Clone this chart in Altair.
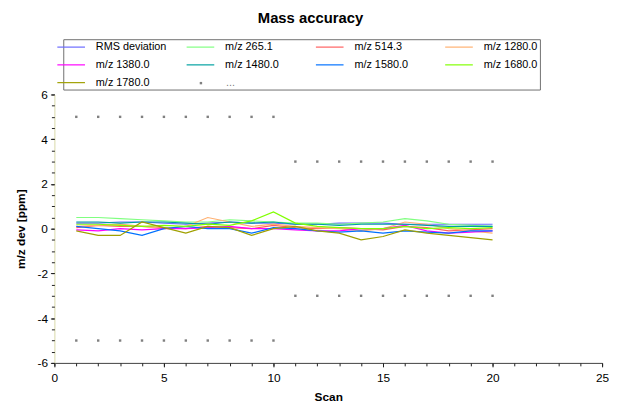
import altair as alt
import pandas as pd

scans = list(range(1, 21))
series_names = ["RMS deviation", "m/z 265.1", "m/z 514.3", "m/z 1280.0",
                "m/z 1380.0", "m/z 1480.0", "m/z 1580.0", "m/z 1680.0", "m/z 1780.0"]
series_colors = ["#6a6aff", "#80ff80", "#ff6060", "#ffb070", "#ff00ff",
                 "#00a0a0", "#0070ff", "#80ff00", "#a0a000"]

rms = [0.25, 0.25, 0.3, 0.3, 0.25, 0.2, 0.25, 0.3, 0.25, 0.25, 0.2, 0.2, 0.25, 0.25, 0.25, 0.2, 0.2, 0.2, 0.2, 0.2]
mz265 = [0.5, 0.5, 0.45, 0.4, 0.35, 0.3, 0.3, 0.4, 0.35, 0.3, 0.25, 0.25, 0.2, 0.25, 0.3, 0.45, 0.35, 0.2, 0.15, 0.1]
mz514 = [0.05, 0.15, 0.1, 0.1, 0.05, 0.0, 0.1, 0.05, 0.0, 0.15, 0.05, 0.0, 0.05, 0.0, -0.05, 0.1, 0.05, -0.1, -0.05, 0.0]
mz1280 = [0.1, 0.15, 0.2, 0.1, 0.0, 0.1, 0.5, 0.3, 0.1, 0.2, 0.1, 0.05, 0.0, -0.1, 0.0, 0.3, 0.2, 0.0, -0.1, -0.2]
mz1380 = [-0.05, -0.1, 0.0, -0.05, 0.0, 0.0, 0.05, 0.1, 0.0, 0.0, -0.05, -0.1, -0.1, 0.0, 0.0, 0.15, -0.1, -0.2, -0.15, -0.1]
mz1480 = [0.3, 0.3, 0.25, 0.3, 0.3, 0.25, 0.2, 0.3, 0.25, 0.3, 0.2, 0.2, 0.15, 0.2, 0.2, 0.2, 0.15, 0.1, 0.1, 0.1]
mz1580 = [0.1, 0.0, -0.1, -0.3, 0.0, 0.1, 0.0, 0.0, -0.2, 0.05, 0.0, -0.1, -0.15, -0.1, -0.2, -0.1, -0.15, -0.2, -0.1, -0.1]
mz1680 = [0.2, 0.2, 0.15, 0.1, 0.15, 0.1, 0.2, 0.15, 0.35, 0.75, 0.25, 0.1, 0.05, 0.0, 0.0, 0.1, 0.0, 0.05, 0.0, 0.05]
mz1780 = [-0.1, -0.3, -0.3, 0.3, 0.05, -0.2, 0.1, 0.05, -0.3, 0.0, 0.1, -0.1, -0.2, -0.5, -0.35, -0.05, -0.2, -0.3, -0.4, -0.5]

all_series = [rms, mz265, mz514, mz1280, mz1380, mz1480, mz1580, mz1680, mz1780]

limit_scans = list(range(1, 21))
limit_upper = [5] * 10 + [3] * 10
limit_lower = [-5] * 10 + [-3] * 10
limit_name = "..."

x_major = [0, 5, 10, 15, 20, 25]
x_minor = list(range(0, 26))
y_major = [-6, -4, -2, 0, 2, 4, 6]
y_minor = [v / 2 for v in range(-12, 13)]

rows = []
for name, vals in zip(series_names, all_series):
    for s, v in zip(scans, vals):
        rows.append({"scan": s, "dev": v, "series": name})
lines_df = pd.DataFrame(rows)

prow = []
for s, u, l in zip(limit_scans, limit_upper, limit_lower):
    prow.append({"scan": s, "dev": u, "lim": limit_name})
    prow.append({"scan": s, "dev": l, "lim": limit_name})
pts_df = pd.DataFrame(prow)

FONT = "Liberation Sans"

xscale = alt.Scale(domain=[0, 25], nice=False)
yscale = alt.Scale(domain=[-6, 6], nice=False)

xaxis = alt.Axis(title="Scan", orient="bottom", values=x_major, labelOverlap=False,
                 labelExpr="'' + datum.value",
                 grid=False, tickSize=4, labelPadding=6, titlePadding=8,
                 labelFontSize=12, titleFontSize=12, titleFontWeight="bold",
                 domainColor="#404040", tickColor="#202020", labelColor="#000000",
                 labelFont=FONT, titleFont=FONT, labelFlush=False)
yaxis = alt.Axis(title="m/z dev [ppm]", orient="left", values=y_major, labelOverlap=False,
                 labelExpr="'' + datum.value",
                 grid=False, tickSize=4, labelPadding=3, titlePadding=10,
                 labelFontSize=12, titleFontSize=12, titleFontWeight="bold",
                 domainColor="#d8d8a8", tickColor="#202020", labelColor="#000000",
                 labelFont=FONT, titleFont=FONT, labelFlush=False)
xaxis_minor = alt.Axis(title=None, orient="bottom", values=x_minor, labels=False,
                       grid=False, domain=False, tickSize=3, tickColor="#202020")
yaxis_minor = alt.Axis(title=None, orient="left", values=y_minor, labels=False,
                       grid=False, domain=False, tickSize=3, tickColor="#202020")

legend = alt.Legend(
    title=None, orient="none", legendX=9, legendY=-56, direction="horizontal",
    columns=4, gridAlign="all", symbolType="M-2.8,0H2.8", symbolSize=100,
    symbolStrokeWidth=1.2, labelOffset=19,
    labelFontSize=11, labelFont=FONT, columnPadding=17, rowPadding=7,
    strokeColor="#707070", fillColor="white", padding=2, labelLimit=200, zindex=1,
)

color = alt.Color("series:N", scale=alt.Scale(domain=series_names, range=series_colors),
                  legend=legend)

lines = alt.Chart(lines_df).mark_line(strokeWidth=1.2).encode(
    x=alt.X("scan:Q", scale=xscale, axis=xaxis),
    y=alt.Y("dev:Q", scale=yscale, axis=yaxis),
    color=color,
)

points = alt.Chart(pts_df).mark_point(size=6, filled=True, color="#808080", opacity=1).encode(
    x=alt.X("scan:Q", scale=xscale, axis=xaxis_minor),
    y=alt.Y("dev:Q", scale=yscale, axis=yaxis_minor),
    shape=alt.Shape("lim:N", scale=alt.Scale(domain=[limit_name], range=["square"]),
                    legend=alt.Legend(title=None, orient="none", legendX=143, legendY=-17,
                                      symbolSize=6, symbolFillColor="#808080",
                                      symbolStrokeColor="#808080",
                                      labelFontSize=11, labelFont=FONT, labelOffset=20,
                                      labelColor="#808080", padding=0, zindex=2)),
)

chart = alt.layer(lines, points).resolve_axis(x="independent", y="independent").properties(
    width=555, height=272,
    title=alt.TitleParams("Mass accuracy", fontSize=15, fontWeight="bold", font=FONT,
                          anchor="middle", offset=13, dx=-18),
    autosize=alt.AutoSizeParams(type="none"),
    padding={"left": 47, "top": 85, "right": 7, "bottom": 38},
    background="white",
).configure_view(strokeWidth=0, stroke="transparent")

chart.save("out.html", embed_options={"renderer": "svg", "actions": False})
